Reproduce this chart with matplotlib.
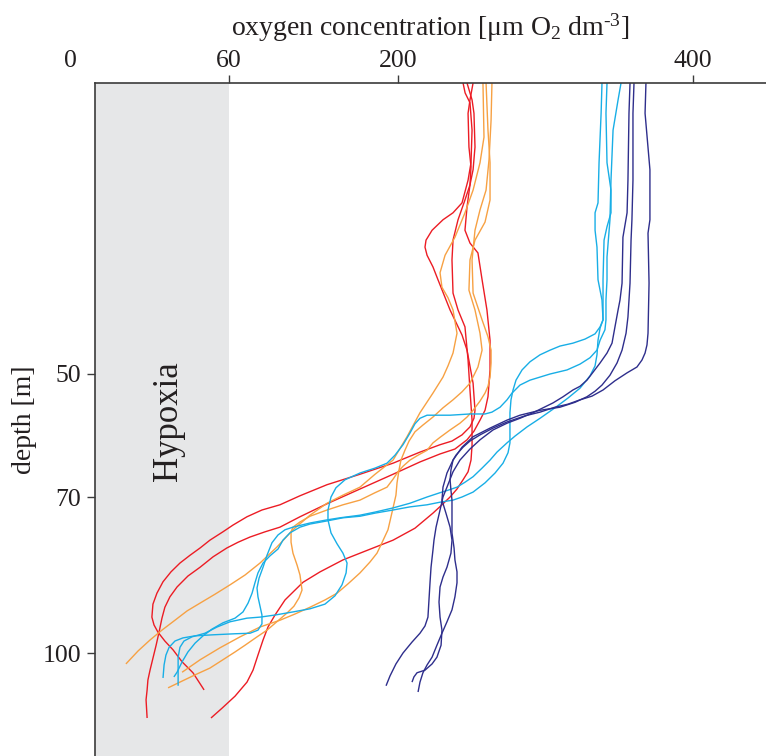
import numpy as np
import matplotlib
matplotlib.use("Agg")
import matplotlib.pyplot as plt
from matplotlib.scale import FuncScale

# ---------------------------------------------------------------------------
# Oxygen profiles: oxygen concentration [µmol O2 dm-3] versus depth [m]
# ---------------------------------------------------------------------------
red_1_o2 = [244.1, 245.5, 248.8, 250.2, 249.5, 247.5, 243.4, 237.3, 230.5, 223.1, 219.0, 218.3,
            219.7, 223.7, 227.1, 235.3, 243.4, 246.8, 250.9, 252.2, 251.5, 248.8, 243.4, 236.6,
            228.5, 214.9, 195.9, 168.5, 141.2, 118.8, 102.2, 87.3, 74.9, 63.3, 57.7, 52.8,
            49.1, 45.3, 41.5, 38.1, 35.1, 32.8, 31.3, 30.9, 31.7, 33.2, 35.8, 38.9,
            42.3, 46.4, 50.6]
red_1_depth = [0, 1.7, 3.4, 8.1, 13.7, 16.7, 20.6, 22.3, 23.5, 25.3, 27.0, 28.2,
               29.6, 31.6, 33.8, 39.0, 43.3, 45.9, 51.5, 55.9, 57.2, 58.6, 59.9, 60.9,
               61.5, 62.7, 64.5, 66.3, 68.0, 69.8, 71.5, 72.5, 73.8, 75.4, 76.7, 78.3,
               79.8, 81.2, 82.7, 84.4, 86.3, 88.5, 90.6, 93.1, 94.6, 96.0, 97.7, 99.4,
               101.7, 103.8, 107.1]

red_2_o2 = [246.8, 250.2, 251.5, 252.2, 250.9, 248.8, 246.8, 245.4, 248.8, 254.2, 257.0, 260.3,
            262.4, 262.4, 261.0, 259.0, 255.6, 251.5, 246.8, 238.6, 228.5, 214.9, 195.9, 168.5,
            141.2, 118.8, 102.2, 89.8, 77.4, 67.5, 59.2, 54.0, 49.1, 44.5, 40.4, 37.7,
            35.8, 34.7, 33.6, 32.5, 31.3, 30.2, 29.4, 29.1, 28.7, 29.1]
red_2_depth = [0, 2.9, 5.2, 11.0, 14.9, 17.5, 21.3, 25.3, 27.5, 29.2, 33.8, 39.0,
               44.2, 49.3, 53.7, 55.9, 57.5, 59.3, 60.7, 62.2, 63.0, 64.3, 66.3, 68.7,
               71.3, 73.8, 75.8, 76.7, 77.7, 78.7, 79.8, 81.5, 83.5, 85.2, 87.3, 89.2,
               91.2, 93.3, 96.0, 98.5, 101.0, 103.3, 105.2, 107.1, 109.0, 112.5]

red_3_o2 = [250.9, 248.8, 247.5, 248.1, 249.5, 248.8, 245.4, 240.7, 237.3, 236.6, 237.3, 240.7,
            245.4, 247.5, 248.8, 250.2, 250.2, 249.5, 247.5, 244.1, 240.0, 235.3, 229.8, 223.7,
            211.5, 195.9, 175.1, 154.4, 135.4, 121.3, 114.7, 106.4, 98.1, 92.3, 88.2, 84.0,
            79.9, 74.9, 65.0, 57.4, 53.2]
red_3_depth = [0, 2.9, 5.2, 11.0, 14.4, 17.5, 20.1, 23.5, 27.0, 30.4, 36.1, 39.0,
               41.9, 47.6, 52.6, 57.5, 61.6, 64.0, 65.9, 67.2, 68.7, 70.0, 71.5, 73.1,
               76.0, 78.3, 80.2, 82.1, 84.4, 86.4, 87.9, 89.8, 92.7, 95.0, 97.5, 100.4,
               103.3, 105.6, 108.3, 110.6, 112.5]

orange_1_o2 = [257.6, 258.3, 255.6, 250.9, 245.4, 238.6, 231.9, 228.5, 229.8, 233.9, 237.3, 240.0,
               237.3, 233.9, 230.5, 223.7, 214.9, 206.1, 195.9, 181.0, 168.5, 154.4, 141.2, 127.1,
               113.0, 99.8, 85.7, 73.3, 60.8, 54.7, 49.1, 44.2, 39.6, 34.7, 30.2, 25.7, 21.1]
orange_1_depth = [0, 9.3, 13.7, 18.4, 22.3, 26.5, 29.6, 32.6, 35.1, 36.9, 39.0, 43.0,
                  46.4, 48.6, 50.5, 53.1, 56.3, 60.2, 64.0, 66.3, 68.4, 69.7, 71.2, 73.5,
                  76.3, 79.6, 82.7, 85.0, 86.9, 88.7, 90.4, 91.9, 93.7, 95.6, 97.5, 99.6, 102.1]

orange_2_o2 = [259.7, 261.0, 262.4, 262.4, 259.0, 252.2, 248.8, 248.1, 252.2, 255.6, 257.0, 254.2,
               248.8, 243.4, 237.3, 230.5, 223.7, 216.9, 211.5, 207.5, 204.7, 202.0, 200.7, 199.2,
               198.3, 195.1, 191.7, 186.7, 182.6, 176.8, 168.5, 158.6, 149.5, 139.5, 127.1, 114.7,
               102.2, 85.7, 69.1, 56.6, 49.1, 42.3]
orange_2_depth = [0, 8.1, 13.7, 20.1, 23.9, 27.0, 30.4, 35.6, 39.0, 43.0, 45.9, 48.8,
                  51.5, 52.9, 54.2, 55.5, 57.0, 58.3, 59.4, 60.9, 62.4, 64.0, 65.6, 67.7,
                  69.7, 72.9, 76.3, 78.8, 80.8, 82.5, 84.6, 86.7, 88.5, 89.8, 91.2, 92.5,
                  93.7, 95.0, 96.9, 99.0, 101.3, 103.7]

orange_3_o2 = [263.7, 263.1, 261.7, 259.7, 255.6, 252.2, 250.2, 250.9, 257.0, 261.0, 263.1, 263.1,
               262.4, 261.0, 259.0, 255.6, 250.9, 246.8, 242.0, 235.3, 228.5, 223.7, 219.7, 213.6,
               208.1, 203.4, 200.0, 195.9, 190.9, 181.0, 168.5, 154.4, 141.2, 127.1, 118.8, 113.0,
               111.4, 111.4, 113.0, 116.4, 118.8, 120.5, 118.0, 113.8, 108.1, 100.6, 91.5, 83.2,
               73.3, 65.0, 57.7, 52.8, 47.2, 42.3, 37.0]
orange_3_depth = [0, 6.4, 13.2, 18.4, 21.8, 25.3, 30.4, 36.1, 40.7, 43.6, 45.9, 48.1,
                  50.5, 52.0, 53.1, 54.4, 55.9, 57.0, 58.0, 59.1, 60.3, 61.2, 62.4, 63.2,
                  64.0, 65.0, 65.9, 67.1, 68.4, 69.3, 70.6, 71.5, 72.5, 73.7, 74.8, 75.8,
                  76.7, 78.7, 80.8, 83.1, 85.0, 87.9, 89.4, 91.0, 92.3, 93.8, 95.6, 96.9,
                  98.5, 99.8, 101.3, 102.9, 104.2, 105.4, 106.7]

blue_1_o2 = [338.3, 337.7, 336.3, 335.6, 333.6, 333.6, 334.9, 335.6, 338.3, 339.0, 337.0, 333.6,
             326.8, 318.6, 309.8, 303.1, 296.3, 289.5, 284.1, 280.0, 278.0, 276.6, 275.9, 275.9,
             275.9, 274.6, 271.2, 265.8, 259.0, 250.9, 243.4, 237.3, 228.5, 219.7, 208.1, 195.9,
             181.0, 168.5, 154.4, 141.2, 127.1, 118.8, 110.5, 104.7, 100.6, 94.0, 88.2, 84.0,
             81.5, 79.1, 75.8, 71.6, 65.0, 57.7, 53.6, 50.2, 47.2, 44.5, 42.3, 40.4, 39.2]
blue_1_depth = [0, 5.2, 13.7, 20.6, 22.3, 25.3, 28.2, 33.8, 37.3, 40.7, 41.9, 43.1,
                44.0, 44.7, 45.2, 45.9, 46.7, 47.9, 49.3, 51.0, 52.6, 54.2, 56.3, 59.1,
                61.2, 62.8, 64.5, 66.1, 67.7, 69.2, 70.0, 70.6, 71.0, 71.5, 71.9, 72.5,
                73.1, 73.7, 74.0, 74.6, 75.2, 75.8, 76.9, 78.3, 80.0, 81.3, 82.7, 84.6,
                86.5, 88.5, 90.4, 92.1, 93.3, 94.2, 95.4, 96.7, 98.1, 99.8, 101.7, 103.7, 104.6]

blue_2_o2 = [341.7, 341.0, 341.7, 344.4, 344.4, 341.7, 339.7, 339.0, 339.0, 339.0, 337.0, 335.6,
             334.9, 333.6, 330.2, 323.4, 315.3, 306.4, 296.3, 287.5, 279.3, 273.9, 267.1, 262.4,
             257.0, 250.9, 245.4, 240.0, 233.9, 228.5, 219.7, 208.1, 195.9, 181.0, 168.5, 152.0,
             141.2, 127.1, 113.0, 106.4, 100.6, 95.6, 91.5, 88.2, 84.9, 83.2, 84.0, 85.7,
             87.3, 87.3, 84.0, 77.4, 65.0, 54.0, 47.2, 42.6, 39.6, 37.4, 36.2, 35.5, 35.1]
blue_2_depth = [0, 5.2, 13.7, 18.4, 22.3, 24.7, 27.0, 33.8, 37.3, 40.7, 42.1, 44.2,
                46.7, 48.6, 50.3, 52.3, 53.9, 55.5, 57.2, 58.6, 60.1, 61.2, 62.7, 64.0,
                65.3, 66.7, 67.6, 68.4, 68.9, 69.3, 70.0, 71.2, 72.1, 72.9, 73.5, 74.0,
                74.4, 75.0, 75.8, 76.3, 77.3, 78.8, 81.2, 83.5, 85.6, 87.5, 89.2, 91.0,
                92.7, 94.4, 95.6, 96.2, 96.3, 96.5, 96.7, 97.1, 97.7, 98.9, 100.4, 102.3, 104.8]

blue_3_o2 = [351.2, 349.2, 345.8, 344.4, 343.7, 341.7, 341.7, 341.0, 341.0, 340.3, 337.0, 334.9,
             330.2, 323.4, 314.6, 303.1, 296.3, 289.5, 282.7, 277.3, 273.9, 269.2, 263.7, 259.0,
             248.8, 235.3, 219.7, 214.9, 211.5, 208.1, 203.4, 197.5, 190.9, 181.0, 168.5, 156.1,
             148.6, 144.5, 142.0, 142.0, 144.5, 149.5, 154.4, 157.8, 157.0, 153.6, 147.8, 139.5,
             127.1, 113.0, 98.1, 85.7, 74.9, 60.8, 55.5, 50.9, 46.0, 43.0, 41.5, 40.8, 40.8, 40.8]
blue_3_depth = [0, 2.9, 8.1, 16.7, 23.5, 29.9, 33.8, 37.3, 40.7, 42.4, 44.2, 45.9,
                47.2, 48.3, 49.3, 50.0, 50.5, 51.0, 51.8, 53.1, 54.2, 55.4, 56.2, 56.5,
                56.5, 56.7, 56.7, 57.2, 58.1, 59.6, 61.5, 63.2, 64.5, 65.3, 66.1, 67.2,
                68.5, 70.0, 72.5, 74.4, 76.9, 79.0, 80.8, 82.7, 84.6, 86.9, 89.0, 90.6,
                91.5, 92.1, 92.7, 93.1, 93.3, 94.0, 95.0, 96.2, 96.9, 97.7, 98.9, 100.8, 103.3, 106.3]

navy_1_o2 = [357.3, 356.6, 355.9, 355.3, 352.5, 351.9, 350.5, 349.2, 347.1, 345.1, 341.7, 337.0,
             332.2, 328.1, 323.4, 318.6, 311.9, 305.1, 298.3, 291.5, 282.7, 273.9, 264.4, 255.6,
             248.8, 242.0, 237.3, 233.2, 230.5, 228.5, 225.8, 224.4, 223.7, 222.4, 221.7, 221.0,
             220.3, 218.3, 214.9, 209.5, 203.4, 198.3, 193.4, 190.1]
navy_1_depth = [0, 5.2, 16.7, 22.3, 26.5, 34.4, 37.3, 39.0, 41.9, 44.7, 46.4, 48.1,
                49.7, 51.0, 52.0, 52.6, 53.7, 54.7, 55.5, 56.3, 57.2, 58.0, 59.1, 60.7,
                62.2, 64.0, 65.9, 68.4, 70.0, 72.5, 75.8, 78.3, 80.2, 83.5, 86.5, 89.8,
                93.1, 94.8, 96.2, 97.9, 100.0, 102.1, 104.4, 106.3]

navy_2_o2 = [360.0, 359.3, 359.3, 358.6, 358.0, 357.3, 356.6, 355.9, 354.6, 351.9, 348.5, 343.7,
             338.3, 333.6, 328.1, 320.0, 309.8, 296.3, 282.7, 273.9, 262.4, 250.9, 243.4, 237.3,
             233.2, 230.5, 229.8, 232.5, 235.3, 236.6, 235.9, 233.2, 230.5, 228.5, 227.8, 228.5,
             229.8, 229.2, 226.4, 223.1, 218.3, 212.9, 210.8, 209.5]
navy_2_depth = [0, 5.2, 16.7, 23.5, 27.0, 34.4, 37.3, 40.2, 43.0, 45.9, 48.1, 50.2,
                51.8, 52.8, 53.7, 54.6, 55.4, 55.9, 56.7, 57.5, 58.8, 60.2, 61.9, 64.0,
                66.1, 68.4, 70.6, 73.1, 75.8, 78.3, 80.8, 83.5, 85.4, 87.3, 90.2, 93.1,
                95.6, 98.5, 100.8, 102.1, 103.3, 103.8, 104.6, 105.6]

navy_3_o2 = [368.1, 367.5, 370.8, 370.8, 369.5, 370.2, 369.5, 368.8, 367.5, 365.4, 362.0, 355.3,
             347.1, 339.0, 331.5, 323.4, 315.3, 306.4, 296.3, 286.1, 273.9, 264.4, 255.6, 248.8,
             244.1, 239.3, 237.3, 235.9, 235.3, 235.9, 236.6, 236.6, 236.6, 238.0, 238.6, 240.0,
             240.0, 238.6, 236.6, 233.2, 229.8, 226.4, 223.1, 219.7, 216.9, 214.9, 213.6]
navy_3_depth = [0, 5.2, 14.9, 23.5, 25.8, 34.4, 43.0, 45.0, 46.4, 47.6, 48.8, 49.8,
                51.1, 52.6, 53.6, 54.2, 54.9, 55.4, 56.2, 56.8, 57.8, 58.8, 59.9, 60.9,
                61.9, 63.2, 64.0, 65.6, 67.2, 68.9, 70.6, 73.5, 76.9, 79.8, 82.1, 84.4,
                86.5, 89.2, 91.7, 94.0, 96.2, 98.5, 100.8, 102.3, 103.8, 105.6, 107.5]

oxygen_ticks = [60, 200, 400]
depth_ticks = [50, 70, 100]
hypoxia_limit = 60

# ---------------------------------------------------------------------------
# Piecewise-linear axis scales (the printed axes are stretched between ticks)
# ---------------------------------------------------------------------------
def piecewise_scale(values, positions):
    values = np.asarray(values, float)
    positions = np.asarray(positions, float)
    s0 = (positions[1] - positions[0]) / (values[1] - values[0])
    s1 = (positions[-1] - positions[-2]) / (values[-1] - values[-2])

    def forward(v):
        v = np.asarray(v, float)
        out = np.interp(v, values, positions)
        out = np.where(v < values[0], positions[0] + (v - values[0]) * s0, out)
        out = np.where(v > values[-1], positions[-1] + (v - values[-1]) * s1, out)
        return out

    def inverse(p):
        p = np.asarray(p, float)
        out = np.interp(p, positions, values)
        out = np.where(p < positions[0], values[0] + (p - positions[0]) / s0, out)
        out = np.where(p > positions[-1], values[-1] + (p - positions[-1]) / s1, out)
        return out

    return forward, inverse


x_fwd, x_inv = piecewise_scale([0, 60, 200, 400], [0, 159, 328, 623])
y_fwd, y_inv = piecewise_scale([0, 50, 70, 100], [0, 291, 414, 570])

# ---------------------------------------------------------------------------
plt.rcParams["font.family"] = ["Liberation Serif", "DejaVu Serif"]
plt.rcParams["mathtext.fontset"] = "custom"
plt.rcParams["mathtext.rm"] = "Liberation Serif"
plt.rcParams["mathtext.it"] = "Liberation Serif:italic"

W, H = 766, 756
fig = plt.figure(figsize=(W / 100, H / 100), dpi=100)
ax = fig.add_axes([95 / W, 0, 1 - 95 / W, 1 - 83 / H])
ax.set_xscale(FuncScale(ax.xaxis, (x_fwd, x_inv)))
ax.set_yscale(FuncScale(ax.yaxis, (y_fwd, y_inv)))

x_left = float(x_inv(25))
x_right = float(x_inv(696))
y_bottom = float(y_inv(673))
ax.set_xlim(x_left, x_right)
ax.set_ylim(y_bottom, 0)

# hypoxic zone
ax.axvspan(x_left, hypoxia_limit, color="#e6e7e8", lw=0, zorder=0)
ax.text(37, 57.6, "Hypoxia", rotation=90, ha="center", va="center",
        fontsize=25, color="#231f20")

profiles = [
    (red_1_o2, red_1_depth, "#ec1c24"),
    (red_2_o2, red_2_depth, "#ec1c24"),
    (red_3_o2, red_3_depth, "#ec1c24"),
    (orange_1_o2, orange_1_depth, "#f7a143"),
    (orange_2_o2, orange_2_depth, "#f7a143"),
    (orange_3_o2, orange_3_depth, "#f7a143"),
    (blue_1_o2, blue_1_depth, "#18aee6"),
    (blue_2_o2, blue_2_depth, "#18aee6"),
    (blue_3_o2, blue_3_depth, "#18aee6"),
    (navy_1_o2, navy_1_depth, "#2e2e8c"),
    (navy_2_o2, navy_2_depth, "#2e2e8c"),
    (navy_3_o2, navy_3_depth, "#2e2e8c"),
]
for o2, depth, color in profiles:
    ax.plot(o2, depth, color=color, lw=1.0, solid_joinstyle="round",
            solid_capstyle="butt", zorder=2)

# axes frame: only top and left
for side in ("right", "bottom"):
    ax.spines[side].set_visible(False)
for side in ("top", "left"):
    ax.spines[side].set_linewidth(1.2)
    ax.spines[side].set_color("#3b3b3b")

ax.xaxis.tick_top()
ax.xaxis.set_label_position("top")
ax.set_xticks(oxygen_ticks)
ax.set_xticklabels([str(t) for t in oxygen_ticks])
ax.set_yticks(depth_ticks)
ax.set_yticklabels([str(t) for t in depth_ticks])
ax.minorticks_off()
ax.tick_params(axis="both", direction="out", length=6, width=1.0,
               color="#3b3b3b", labelsize=18.5, labelcolor="#231f20")
ax.tick_params(axis="x", pad=2)
ax.tick_params(axis="y", pad=4)

# "0" sits left of the frame, level with the other oxygen labels
ax.annotate("0", xy=(0, 1), xycoords=("data", "axes fraction"),
            xytext=(0, 8), textcoords="offset points",
            ha="center", va="bottom", fontsize=18.5, color="#231f20",
            annotation_clip=False)

ax.set_xlabel(r"oxygen concentration [μm O$_2$ dm$^{\text{-}3}$]",
              fontsize=20, color="#231f20", labelpad=10)
ax.set_ylabel("depth [m]", fontsize=20, color="#231f20", labelpad=4)

fig.savefig("out.png", dpi=100)
